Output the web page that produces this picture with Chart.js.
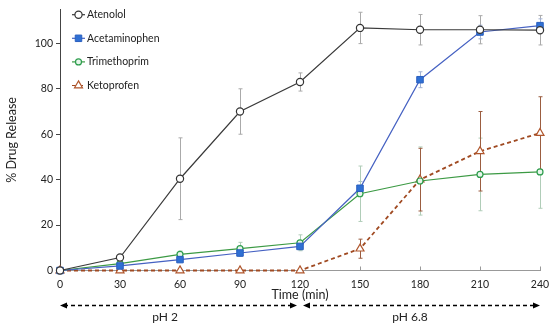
<!DOCTYPE html>
<html lang="en">
<head>
    <meta charset="UTF-8">
    <title>% Drug Release</title>
    <script src="https://cdn.jsdelivr.net/npm/chart.js"></script>
    <style>
        body { margin: 0; background: #fff; }
        .wrap { width: 550px; height: 326px; }
    </style>
</head>
<body>
    <div class="wrap"><canvas id="releaseChart"></canvas></div>
    <script>
        // data
        const times = [0, 30, 60, 90, 120, 150, 180, 210, 240];
        const atenolol      = [0, 5.7, 40.4, 70, 83, 106.8, 106, 106, 105.8];
        const atenololErr   = [0, 1, 18, 10, 4, 6.9, 6.7, 6.2, 6.5];
        const acetaminophen = [0, 2, 4.8, 7.7, 10.6, 36.2, 84, 105, 107.8];
        const acetaminophenErr = [0, 0.5, 1, 1.5, 1.5, 3, 3.5, 3, 3];
        const trimethoprim  = [0, 3, 7.1, 9.6, 12.2, 33.8, 39.4, 42.3, 43.4];
        const trimethoprimErr = [0, 1, 1.5, 2.8, 3.5, 12.2, 15, 16, 16];
        const ketoprofen    = [0, 0, 0, 0, 0, 9.6, 40, 52.5, 60.5];
        const ketoprofenErr = [0, 0, 0, 0, 0, 4.2, 13.8, 17.5, 16];
        const phLabels = ['pH 2', 'pH 6.8'];

        const FONT = 'Lato, "Open Sans", sans-serif';

        function pts(vals) {
            return vals.map((v, i) => ({ x: times[i], y: v }));
        }

        // error bars, x tick marks, legend, pH arrows
        const extras = {
            id: 'extras',
            beforeDatasetsDraw(chart) {
                const ctx = chart.ctx;
                const xs = chart.scales.x, ys = chart.scales.y;
                chart.data.datasets.forEach(ds => {
                    ctx.save();
                    ctx.strokeStyle = ds.errColor;
                    ctx.lineWidth = 1;
                    ds.data.forEach((p, i) => {
                        const e = ds.err[i];
                        if (!e) return;
                        const x = Math.round(xs.getPixelForValue(p.x)) + 0.5;
                        const y1 = ys.getPixelForValue(p.y + e);
                        const y2 = ys.getPixelForValue(p.y - e);
                        ctx.beginPath();
                        ctx.moveTo(x, y1); ctx.lineTo(x, y2);
                        ctx.moveTo(x - 2, y1); ctx.lineTo(x + 2, y1);
                        ctx.moveTo(x - 2, y2); ctx.lineTo(x + 2, y2);
                        ctx.stroke();
                    });
                    ctx.restore();
                });
                // small inward tick marks on the x axis
                ctx.save();
                ctx.strokeStyle = '#999';
                ctx.lineWidth = 1;
                xs.ticks.forEach(t => {
                    const x = Math.round(xs.getPixelForValue(t.value)) + 0.5;
                    ctx.beginPath();
                    ctx.moveTo(x, chart.chartArea.bottom);
                    ctx.lineTo(x, chart.chartArea.bottom - 4);
                    ctx.stroke();
                });
                ctx.restore();
            },
            afterDraw(chart) {
                const ctx = chart.ctx;
                const xs = chart.scales.x;
                // legend
                ctx.save();
                chart.data.datasets.forEach((ds, i) => {
                    const y = 14.7 + i * 23.6;
                    ctx.strokeStyle = ds.borderColor;
                    ctx.lineWidth = 1.2;
                    ctx.setLineDash(ds.borderDash || []);
                    ctx.beginPath();
                    ctx.moveTo(72, y); ctx.lineTo(85, y);
                    ctx.stroke();
                    ctx.setLineDash([]);
                    ctx.fillStyle = ds.pointBackgroundColor;
                    ctx.strokeStyle = ds.pointBorderColor;
                    ctx.lineWidth = ds.pointBorderWidth;
                    Chart.helpers.drawPoint(ctx, { pointStyle: ds.pointStyle, radius: ds.pointRadius, rotation: 0, borderWidth: ds.pointBorderWidth }, 78.5, y);
                    ctx.fillStyle = '#222';
                    ctx.font = '10.5px ' + FONT;
                    ctx.textBaseline = 'middle';
                    ctx.textAlign = 'left';
                    ctx.fillText(ds.label, 87, y);
                });
                ctx.restore();

                // pH arrows
                const y = 305.5;
                const x0 = xs.getPixelForValue(0);
                const xm = xs.getPixelForValue(120);
                const x1 = xs.getPixelForValue(240);
                ctx.save();
                ctx.strokeStyle = '#000';
                ctx.fillStyle = '#000';
                ctx.lineWidth = 1.3;
                ctx.setLineDash([4, 3]);
                ctx.beginPath();
                ctx.moveTo(x0 + 4, y); ctx.lineTo(xm - 6, y);
                ctx.moveTo(xm + 6, y); ctx.lineTo(x1 - 4, y);
                ctx.stroke();
                ctx.setLineDash([]);
                const head = (x, dir) => {
                    ctx.beginPath();
                    ctx.moveTo(x, y);
                    ctx.lineTo(x - dir * 7, y - 3);
                    ctx.lineTo(x - dir * 7, y + 3);
                    ctx.closePath();
                    ctx.fill();
                };
                head(x0, -1);
                head(xm - 3, 1);
                head(xm + 3, -1);
                head(x1, 1);
                ctx.font = '12px ' + FONT;
                ctx.textAlign = 'center';
                ctx.textBaseline = 'middle';
                ctx.fillStyle = '#222';
                ctx.fillText(phLabels[0], xs.getPixelForValue(52.5), 317);
                ctx.fillText(phLabels[1], xs.getPixelForValue(175), 317);
                ctx.restore();
            }
        };

        const ctx = document.getElementById('releaseChart').getContext('2d');
        new Chart(ctx, {
            type: 'line',
            data: {
                datasets: [
                    {
                        label: 'Atenolol',
                        data: pts(atenolol),
                        err: atenololErr,
                        errColor: '#aaaaaa',
                        borderColor: '#3a3a3a',
                        borderWidth: 1.2,
                        pointStyle: 'circle',
                        pointRadius: 3.6,
                        pointBorderWidth: 1.2,
                        pointBackgroundColor: '#ffffff',
                        pointBorderColor: '#333333'
                    },
                    {
                        label: 'Acetaminophen',
                        data: pts(acetaminophen),
                        err: acetaminophenErr,
                        errColor: '#a4b4d4',
                        borderColor: '#4561c2',
                        borderWidth: 1.2,
                        pointStyle: 'rect',
                        pointRadius: 4.6,
                        pointBorderWidth: 1,
                        pointBackgroundColor: '#2f70d4',
                        pointBorderColor: '#2a5fbf'
                    },
                    {
                        label: 'Trimethoprim',
                        data: pts(trimethoprim),
                        err: trimethoprimErr,
                        errColor: '#b0cdb8',
                        borderColor: '#3c9a44',
                        borderWidth: 1.2,
                        pointStyle: 'circle',
                        pointRadius: 3,
                        pointBorderWidth: 1.2,
                        pointBackgroundColor: '#e8f6ec',
                        pointBorderColor: '#2e9e4e'
                    },
                    {
                        label: 'Ketoprofen',
                        data: pts(ketoprofen),
                        err: ketoprofenErr,
                        errColor: '#9b5d40',
                        borderColor: '#a04a22',
                        borderWidth: 1.8,
                        borderDash: [4, 3],
                        pointStyle: 'triangle',
                        pointRadius: 4.6,
                        pointBorderWidth: 1.2,
                        pointBackgroundColor: '#ffffff',
                        pointBorderColor: '#b0562c'
                    }
                ]
            },
            options: {
                responsive: true,
                maintainAspectRatio: false,
                animation: false,
                clip: false,
                layout: { padding: { left: 0, right: 10, top: 5, bottom: 24 } },
                plugins: {
                    legend: { display: false },
                    tooltip: { enabled: false }
                },
                scales: {
                    x: {
                        type: 'linear',
                        min: 0,
                        max: 240,
                        afterFit(scale) {
                            scale.height = 31.5;
                            scale.paddingLeft = 0;
                            scale.paddingRight = 0;
                        },
                        grid: { display: false, drawTicks: false },
                        border: { display: true, color: '#999', width: 1 },
                        ticks: { stepSize: 30, padding: 8, color: '#222', font: { family: FONT, size: 10.5 } },
                        title: {
                            display: true,
                            text: 'Time (min)',
                            color: '#222',
                            font: { family: FONT, size: 12.5 },
                            padding: { top: 0, bottom: 0 }
                        }
                    },
                    y: {
                        min: 0,
                        max: 115,
                        afterFit(scale) { scale.width = 60; },
                        afterBuildTicks(scale) {
                            scale.ticks = scale.ticks.filter(t => t.value % 20 === 0);
                        },
                        grid: { display: true, drawOnChartArea: false, drawTicks: true, tickLength: 4, color: '#444' },
                        border: { display: true, color: '#444', width: 1 },
                        ticks: { stepSize: 20, padding: 3, color: '#222', font: { family: FONT, size: 10.5 } },
                        title: {
                            display: true,
                            text: '% Drug Release',
                            color: '#222',
                            font: { family: FONT, size: 12.5 },
                            padding: { top: 4, bottom: 0 }
                        }
                    }
                }
            },
            plugins: [extras]
        });
    </script>
</body>
</html>
